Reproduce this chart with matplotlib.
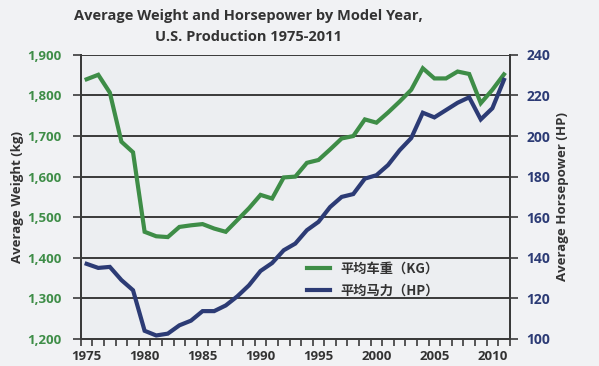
import numpy as np
import matplotlib
matplotlib.use("Agg")
import matplotlib.pyplot as plt
from matplotlib.ticker import FixedLocator, FuncFormatter

years = list(range(1975, 2012))
weight_kg = [1840, 1851, 1807, 1686, 1660, 1464, 1453, 1451, 1476, 1480,
             1483, 1472, 1464, 1493, 1522, 1555, 1546, 1598, 1600, 1634,
             1641, 1667, 1694, 1700, 1741, 1733, 1758, 1785, 1814, 1867,
             1842, 1842, 1859, 1853, 1781, 1814, 1852]
horsepower = [137, 135, 135.5, 129, 124, 104, 101.7, 102.6, 106.7, 109,
              113.7, 113.7, 116.5, 121, 126.4, 133.5, 137.4, 143.7, 147, 153.6,
              157.7, 165, 170, 171.4, 179, 180.7, 185.7, 193, 199, 211.5,
              209.2, 212.8, 216.4, 219.1, 208.2, 213.7, 227.7]

title = "Average Weight and Horsepower by Model Year,\nU.S. Production 1975-2011"
label_w = "平均车重（KG）"
label_hp = "平均马力（HP）"

green = "#3e8d47"
navy = "#2c3b75"
grid_c = "#3a3a3a"

plt.rcParams['font.family'] = ['Open Sans', 'Noto Sans CJK SC', 'DejaVu Sans']

fig = plt.figure(figsize=(5.99, 3.66), dpi=100, facecolor="#f1f2f4")
ax = fig.add_axes([0.135, 0.074, 0.716, 0.776])
ax.set_facecolor("#eceef1")
ax2 = ax.twinx()

l1, = ax.plot(years, weight_kg, color=green, lw=3, solid_joinstyle="miter", zorder=3)
l2, = ax2.plot(years, horsepower, color=navy, lw=3, solid_joinstyle="miter", zorder=3)

ax.set_xlim(1974.5, 2011.5)
ax.set_ylim(1200, 1900)
ax2.set_ylim(100, 240)

ax.set_yticks(np.arange(1200, 1901, 100))
ax.yaxis.set_major_formatter(FuncFormatter(lambda v, p: f"{int(v):,}"))
ax2.set_yticks(np.arange(100, 241, 20))

ax.xaxis.set_major_locator(FixedLocator(range(1975, 2012, 5)))
ax.xaxis.set_minor_locator(FixedLocator(np.arange(1974.5, 2012, 1)))
ax.tick_params(axis="x", which="major", length=0, pad=8, labelsize=9.5)
ax.tick_params(axis="x", which="minor", length=5, width=1.2, color=grid_c, direction="out")
for lab in ax.get_xticklabels():
    lab.set_fontweight("bold")
    lab.set_color("#333333")

ax.tick_params(axis="y", length=6, width=1.2, color=grid_c, labelsize=9.5, labelcolor=green, pad=8)
ax2.tick_params(axis="y", length=6, width=1.2, color=grid_c, labelsize=10, labelcolor=navy, pad=6)
for lab in ax.get_yticklabels():
    lab.set_fontweight("bold")
for lab in ax2.get_yticklabels():
    lab.set_fontweight("bold")

ax.grid(axis="y", color=grid_c, lw=1.4)
ax.set_axisbelow(True)

for a in (ax, ax2):
    a.spines["top"].set_visible(False)
    for s in ("left", "right", "bottom"):
        a.spines[s].set_color(grid_c)
        a.spines[s].set_linewidth(1.4)

ax.set_ylabel("Average Weight (kg)", fontsize=9.5, fontweight="bold", color="#333333", labelpad=2)
ax2.set_ylabel("Average Horsepower (HP)", fontsize=9.5, fontweight="bold", color="#333333", labelpad=4)

fig.suptitle(title, x=0.415, y=0.975, fontsize=10.5, fontweight="bold", color="#333333", linespacing=1.65)

leg = ax2.legend([l1, l2], [label_w, label_hp], loc="upper left", bbox_to_anchor=(0.5, 0.315),
                 frameon=False, handlelength=1.7, handletextpad=0.8, labelspacing=0.65,
                 prop={"family": ['Noto Sans CJK SC', 'DejaVu Sans'], "size": 9.5, "weight": "bold"})
for t in leg.get_texts():
    t.set_color("#333333")

fig.savefig("out.png", dpi=100, facecolor=fig.get_facecolor())
